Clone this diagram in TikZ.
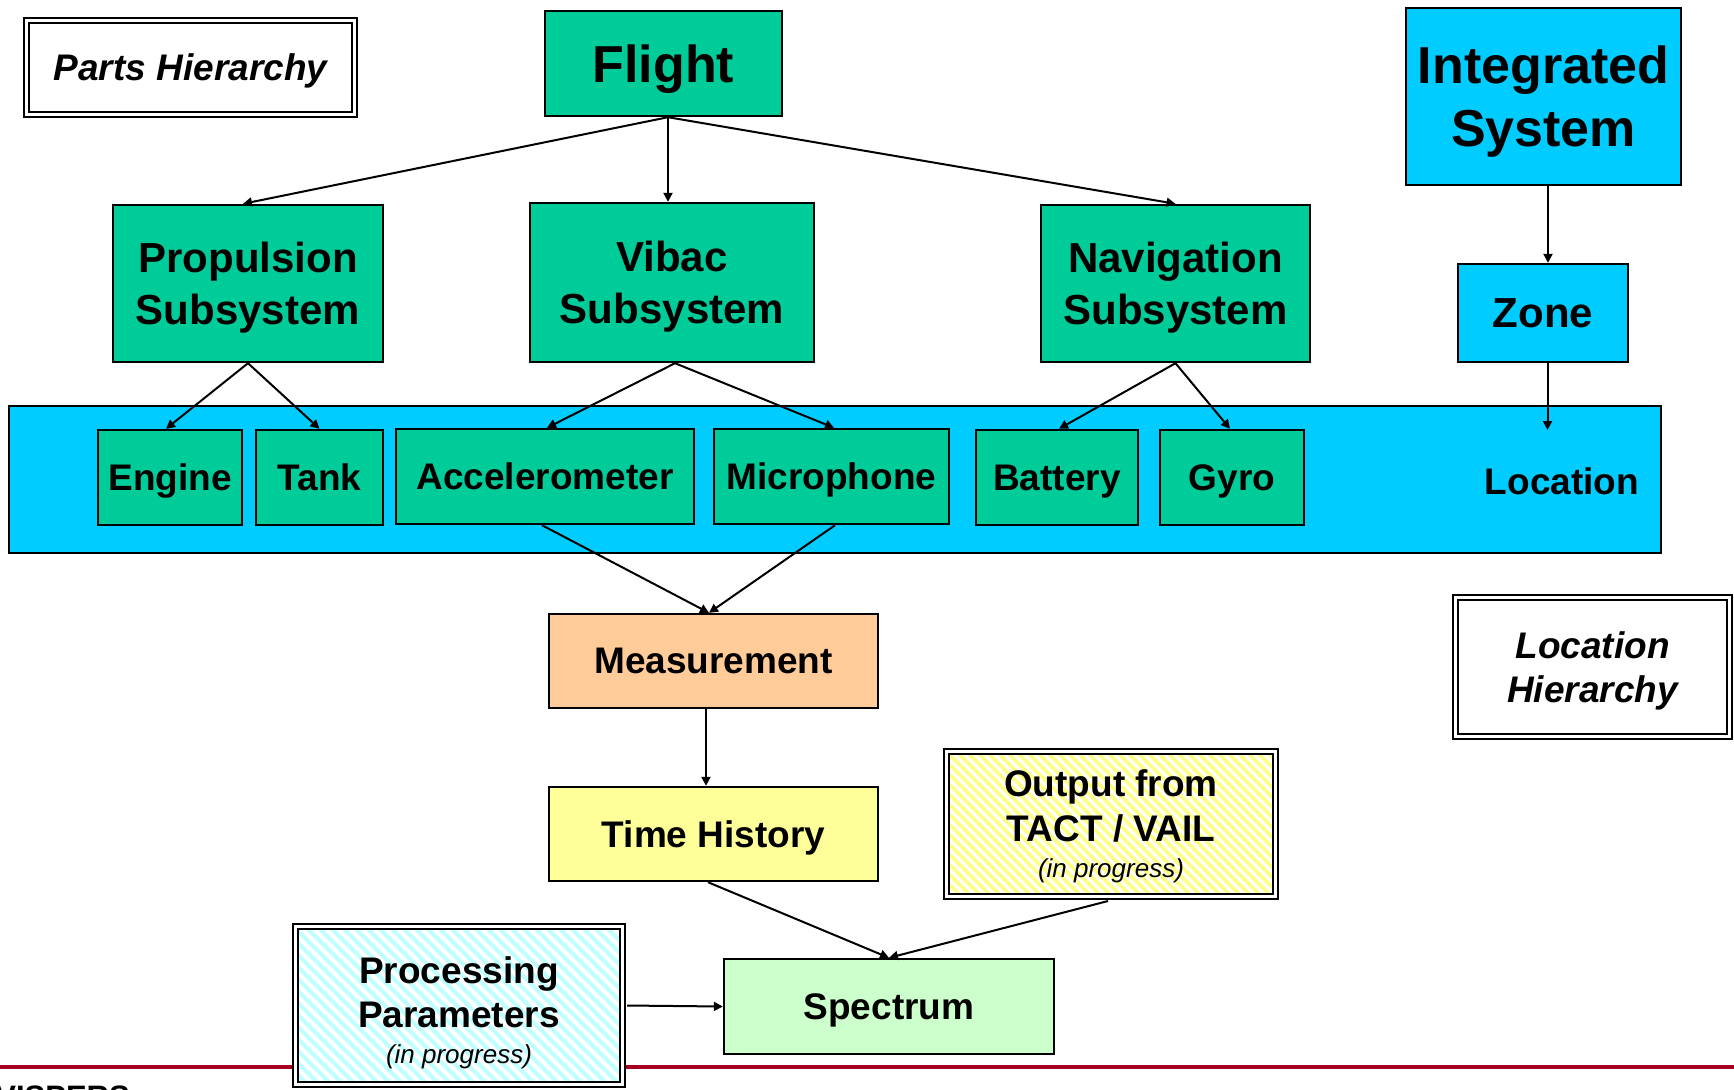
\documentclass[tikz,border=0pt]{standalone}
\usepackage{fontspec}
\setmainfont{Liberation Sans}
\usetikzlibrary{arrows.meta,calc}
\definecolor{grn}{HTML}{00CC99}
\definecolor{cyn}{HTML}{00CCFF}
\definecolor{orng}{HTML}{FFCC99}
\definecolor{ylw}{HTML}{FFFF99}
\definecolor{lgrn}{HTML}{CCFFCC}
\definecolor{redline}{HTML}{A50021}
\definecolor{ystripe}{HTML}{FFFF88}
\definecolor{cstripe}{HTML}{BFFFFF}
\begin{document}
\begin{tikzpicture}[x=0.5pt,y=-0.5pt,
  box/.style={draw=black, line width=1.2pt, rectangle, inner sep=0pt, align=center,
    text depth=0pt, font=\bfseries\fontsize{18.5}{22}\selectfont},
  gbox/.style={box, fill=grn},
  cbox/.style={box, fill=cyn},
  dbox/.style={draw=black, line width=1pt, double=white, double distance=1.5pt, rectangle,
    inner sep=0pt, align=center, fill=white, text depth=0pt, font=\bfseries\fontsize{18.5}{22}\selectfont},
  hatch/.style n args={3}{path picture={
    \foreach \k in {-25,...,45}
      \draw[#1, line width=#3] ($(path picture bounding box.north west)+(\k*#2,-10)$) -- ++(220,220);
  }},
  arr/.style={line width=1pt, -{Triangle[length=4.5pt,width=4.5pt]}},
  big/.style={font=\bfseries\fontsize{26}{31.5}\selectfont},
  mid/.style={font=\bfseries\fontsize{21}{26}\selectfont},
  txt/.style={inner sep=0pt, align=center}
]
\useasboundingbox[fill=white] (0,0) rectangle (1734,1089);

% red footer line and cut text
\coordinate (rl) at (0,1067);
\coordinate (rr) at (1734,1067);
\draw[redline, line width=2pt] (rl) -- (rr);
\node[txt, anchor=base west, font=\bfseries\fontsize{15.5}{18}\selectfont] (vis) at (-5,1107) {VISPERS};

% legend boxes
\node[dbox, font=\bfseries\itshape\fontsize{18.5}{22}\selectfont, minimum width=164pt, minimum height=47pt] (parts) at (190.5,67.5) {Parts Hierarchy};
\node[dbox, font=\bfseries\itshape\fontsize{18.5}{22}\selectfont, minimum width=137pt, minimum height=69.5pt] (lochier) at (1592.5,667) {Location\\Hierarchy};

% top hierarchy
\node[gbox, big, minimum width=118.5pt, minimum height=52.5pt] (flight) at (663.5,63.5) {Flight};
\node[cbox, big, minimum width=137.5pt, minimum height=88.5pt] (intsys) at (1543.5,96.5) {Integrated\\System};
\node[gbox, mid, minimum width=135pt, minimum height=78.5pt] (prop) at (248,283.5) {Propulsion\\Subsystem};
\node[gbox, mid, minimum width=142pt, minimum height=79.5pt] (vibac) at (672,282.5) {Vibac\\Subsystem};
\node[gbox, mid, minimum width=134.5pt, minimum height=78.5pt] (nav) at (1175.5,283.5) {Navigation\\Subsystem};
\node[cbox, mid, minimum width=85pt, minimum height=49pt] (zone) at (1543,313) {Zone};

% location band
\node[cbox, minimum width=826pt, minimum height=73.5pt] (locband) at (835,479.5) {};
\node[txt, text depth=0pt, font=\bfseries\fontsize{18.5}{22}\selectfont] (loclabel) at (1562,481) {Location};
\coordinate (locpt) at (1547.5,430);

\node[gbox, minimum width=72pt, minimum height=47.5pt] (engine) at (170,477.5) {Engine};
\node[gbox, minimum width=63.5pt, minimum height=47.5pt] (tank) at (319.5,477.5) {Tank};
\node[gbox, minimum width=149pt, minimum height=47.5pt] (accel) at (545,476.5) {Accelerometer};
\node[gbox, minimum width=117.5pt, minimum height=47.5pt] (micro) at (831.5,476.5) {Microphone};
\node[gbox, minimum width=81pt, minimum height=47.5pt] (battery) at (1057,477.5) {Battery};
\node[gbox, minimum width=72pt, minimum height=47.5pt] (gyro) at (1232,477.5) {Gyro};

% lower chain
\node[box, fill=orng, minimum width=164.5pt, minimum height=47pt] (meas) at (713.5,661) {Measurement};
\node[box, fill=ylw, minimum width=164.5pt, minimum height=47pt] (timeh) at (713.5,834) {Time History};
\node[box, fill=lgrn, minimum width=165pt, minimum height=47.5pt] (spec) at (889,1006.5) {Spectrum};

\node[dbox, hatch={ystripe}{10}{1.8pt}, minimum width=164.5pt, minimum height=72.5pt,
  font=\bfseries\fontsize{18.5}{22.5}\selectfont] (output) at (1111,824)
  {Output from\\TACT / VAIL\\[-4.5pt]{\mdseries\itshape\fontsize{13}{15}\selectfont (in progress)}};

\node[dbox, hatch={cstripe}{12}{2.1pt}, minimum width=163.5pt, minimum height=79pt] (proc) at (459,1005.5) {};
\node[txt, text depth=0pt, font=\bfseries\fontsize{18.5}{22}\selectfont] (proctext) at (459,1010)
  {Processing\\Parameters\\[-4pt]{\mdseries\itshape\fontsize{13}{15}\selectfont (in progress)}};

% connectors
\draw[arr] ($(flight.south)+(4.5,0)$) -- ($(prop.north)+(-5,0)$);
\draw[arr] ($(flight.south)+(4.5,0)$) -- ($(vibac.north)+(-4,0)$);
\draw[arr] ($(flight.south)+(4.5,0)$) -- (nav.north);
\draw[arr] ($(intsys.south)+(4.5,0)$) -- ($(zone.north)+(5,0)$);
\draw[arr] ($(zone.south)+(4.5,0)$) -- (locpt);
\draw[arr] (prop.south) -- ($(engine.north)+(-4,0)$);
\draw[arr] (prop.south) -- (tank.north);
\draw[arr] ($(vibac.south)+(3,0)$) -- ($(accel.north)+(2,0)$);
\draw[arr] ($(vibac.south)+(3,0)$) -- ($(micro.north)+(2.5,0)$);
\draw[arr] (nav.south) -- ($(battery.north)+(2,0)$);
\draw[arr] (nav.south) -- ($(gyro.north)+(-2,0)$);
\draw[arr] ($(accel.south)+(-3,0)$) -- ($(meas.north)+(-4.5,0)$);
\draw[arr] ($(micro.south)+(3.5,0)$) -- ($(meas.north)+(-4.5,0)$);
\draw[arr] ($(meas.south)+(-7.5,0)$) -- ($(timeh.north)+(-7.5,0)$);
\draw[arr] ($(timeh.south)+(-5.5,0)$) -- (spec.north);
\draw[arr] ($(output.south)+(-3,3.5)$) -- (spec.north);
\draw[arr] ($(proc.east)+(3.5,0)$) -- (spec.west);
\end{tikzpicture}
\end{document}
